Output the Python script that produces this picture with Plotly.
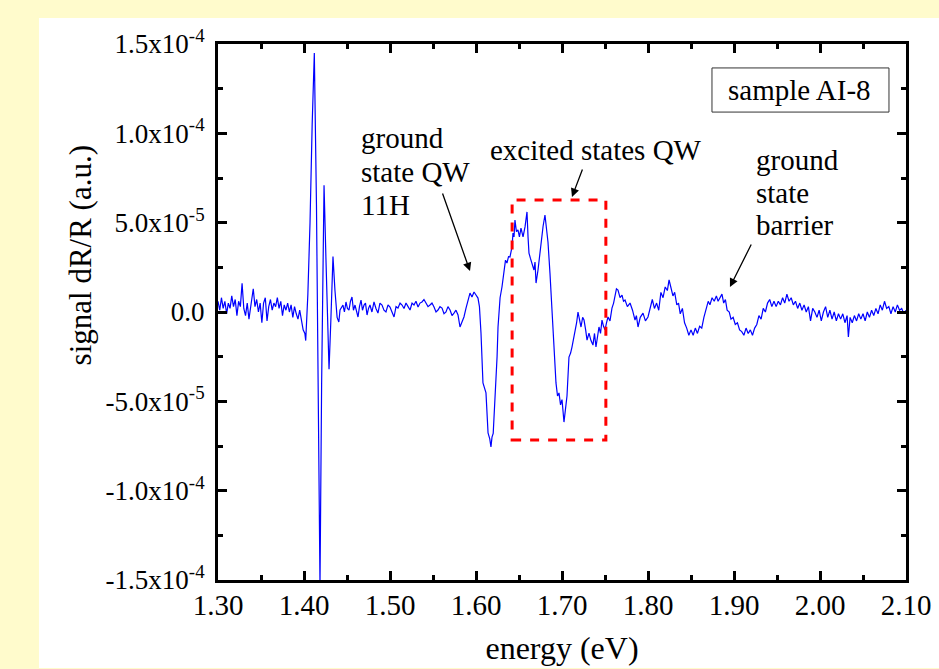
import numpy as np
import plotly.graph_objects as go

# ---------------- data ----------------
energy_ev = [
    1.300, 1.302, 1.304, 1.306, 1.308, 1.310, 1.312, 1.314, 1.316, 1.318, 1.320, 1.322, 1.324, 1.326, 1.328,
    1.330, 1.332, 1.334, 1.336, 1.338, 1.341, 1.343, 1.345, 1.347, 1.349, 1.351, 1.353, 1.355, 1.357, 1.359,
    1.361, 1.363, 1.365, 1.367, 1.369, 1.371, 1.373, 1.375, 1.377, 1.379, 1.381, 1.383, 1.385, 1.387, 1.389,
    1.391, 1.393, 1.395, 1.397, 1.399, 1.401, 1.402,
    1.4045, 1.407, 1.4095, 1.412, 1.4145, 1.4165, 1.4186, 1.4205, 1.4233, 1.4255, 1.4275, 1.4291, 1.4312,
    1.4337, 1.4360, 1.4385, 1.4405, 1.4419,
    1.4453, 1.4470, 1.4488, 1.4505, 1.4523, 1.4540, 1.4558, 1.4575, 1.4593, 1.4610, 1.4628, 1.4645, 1.4663,
    1.4680, 1.4698, 1.4715, 1.4733, 1.4750, 1.4767, 1.4790, 1.4814, 1.4837, 1.4860, 1.4883, 1.4907, 1.4930,
    1.4953, 1.4977, 1.5000, 1.5023, 1.5047, 1.5070, 1.5093, 1.5117, 1.5140, 1.5163, 1.5186, 1.5210, 1.5233,
    1.5256, 1.5279, 1.5302, 1.5326, 1.5349, 1.5372, 1.5395, 1.5419, 1.5442, 1.5465, 1.5488, 1.5512, 1.5535,
    1.5558, 1.5581, 1.5605, 1.5628, 1.5651, 1.5674, 1.5698, 1.5721, 1.5744, 1.5767, 1.5791, 1.5814, 1.5837,
    1.5860, 1.5884, 1.5907, 1.5930, 1.5953, 1.5977, 1.6000, 1.6023, 1.6040,
    1.6058, 1.6081, 1.6100, 1.6116, 1.6140, 1.6160, 1.6174, 1.6186, 1.6200, 1.6209, 1.6233, 1.6245, 1.6256,
    1.6280, 1.6302, 1.6326, 1.6343, 1.6360, 1.6378, 1.6395, 1.6419, 1.6430, 1.6442, 1.6453, 1.6470, 1.6488,
    1.6505, 1.6523, 1.6547, 1.6570, 1.6593, 1.6605, 1.6616, 1.6633, 1.6651, 1.6674, 1.6686, 1.6698, 1.6721,
    1.6740, 1.6756, 1.6780, 1.6802, 1.6820, 1.6837, 1.6860, 1.6884, 1.6907, 1.6930, 1.6948, 1.6965, 1.6983,
    1.7000, 1.7023, 1.7040, 1.7058, 1.7081, 1.7100, 1.7116, 1.7135, 1.7151, 1.7170, 1.7186, 1.7205, 1.7221,
    1.7240, 1.7256, 1.7275, 1.7291, 1.7314, 1.7337, 1.7360, 1.7378, 1.7395, 1.7412, 1.7430, 1.7448, 1.7465,
    1.7483, 1.7500, 1.7518, 1.7535, 1.7558, 1.7581, 1.7600, 1.7616, 1.7633, 1.7651, 1.7675, 1.7698, 1.7715,
    1.7733, 1.7760, 1.7791, 1.7820, 1.7849, 1.7865, 1.7884, 1.7910, 1.7942, 1.7970, 1.8000, 1.8023,
    1.8050, 1.8075, 1.8100, 1.8125, 1.8150, 1.8175, 1.8200, 1.8225, 1.8245, 1.8265, 1.8290, 1.8310, 1.8335,
    1.8355, 1.8375, 1.8400, 1.8425, 1.8450, 1.8475, 1.8500, 1.8525, 1.8550, 1.8575, 1.8600, 1.8625, 1.8650,
    1.8675, 1.8700, 1.8720, 1.8745, 1.8770, 1.8795, 1.8815, 1.8840, 1.8860, 1.8880, 1.8900, 1.8920, 1.8945,
    1.8965, 1.8990, 1.9015, 1.9040, 1.9065, 1.9090, 1.9115, 1.9140, 1.9165, 1.9190, 1.9215, 1.9240, 1.9265,
    1.9290, 1.9315, 1.9340, 1.9365, 1.9390, 1.9415, 1.9440, 1.9465, 1.9490, 1.9515, 1.9540, 1.9565, 1.9590,
    1.9615, 1.9640, 1.9665, 1.9690, 1.9715, 1.9740, 1.9765, 1.9790, 1.9815, 1.9840, 1.9865, 1.9890, 1.9915,
    1.9940, 1.9965, 1.9990, 2.0015, 2.0040, 2.0065, 2.0090, 2.0115, 2.0140, 2.0165, 2.0190, 2.0215, 2.0240,
    2.0265, 2.0290, 2.0315, 2.0330, 2.0350, 2.0375, 2.0400, 2.0425, 2.0450, 2.0475, 2.0500, 2.0525, 2.0550,
    2.0575, 2.0600, 2.0625, 2.0650, 2.0675, 2.0700, 2.0725, 2.0750, 2.0775, 2.0800, 2.0825, 2.0850, 2.0875,
    2.0900, 2.0925, 2.0950, 2.0975, 2.1000,
]

# signal dR/R in units of 1e-5
signal_1e5 = [
    0.6, 0.1, 0.8, 0.2, 0.6, -0.1, 0.5, 0.2, 0.9, 0.3, 0.7, -0.2, 0.6, 0.3, 1.6,
    0.2, -0.2, 0.5, -0.4, 0.3, 1.3, 0.3, 0.7, 0.0, 0.5, -0.6, 0.5, 0.8, -0.5, 0.3,
    0.7, 0.1, 0.5, 0.3, 0.8, 0.2, 0.6, -0.2, 0.4, 0.1, 0.5, 0.0, 0.4, -0.3, 0.3,
    -0.1, -0.4, 0.1, -0.6, -1.0, -1.2, -1.6,
    1.0, 5.0, 10.5, 14.5, 6.0, -6.0, -15.3, -4.0, 7.1, 3.0, -1.5, -3.2, -0.5,
    3.1, 1.2, -0.3, -0.56, 0.11,
    0.39, 0.0, 0.56, 0.2, 0.11, 0.6, 0.84, 0.1, 0.39, 0.0, -0.28, 0.3, 0.67,
    0.1, 0.39, 0.5, -0.17, 0.2, 0.39, 0.0, 0.56, 0.2, -0.06, 0.5, 0.39, 0.1,
    0.0, 0.4, 0.28, 0.0, -0.28, 0.3, 0.22, 0.5, 0.39, 0.2, 0.5, 0.3, 0.11,
    0.5, 0.39, 0.6, 0.28, 0.5, 0.56, 0.7, 0.5, 0.3, 0.39, 0.5, 0.28, 0.0,
    0.11, 0.3, 0.22, -0.1, 0.0, 0.3, 0.11, -0.2, -0.06, 0.1, -0.17, -0.84, -0.56,
    -0.28, 0.22, 0.67, 1.06, 0.84, 1.12, 0.95, 0.78, 0.3,
    -1.18, -3.97, -4.3, -4.53, -6.77, -7.1, -7.55, -7.0, -6.8, -5.88, -4.2, -2.5, -0.84,
    0.8, 1.40, 2.46, 2.9, 2.74, 3.1, 3.08, 3.64, 4.42, 4.2, 5.15, 4.5, 4.59,
    4.2, 4.7, 4.2, 4.76, 5.60, 4.2, 3.30, 3.0, 2.74, 2.35, 2.8, 1.62, 2.35,
    3.2, 4.03, 4.8, 5.43, 4.7, 3.92, 2.18, 0.11, -2.0, -3.97, -4.7, -4.53, -5.2,
    -4.9, -6.16, -5.5, -4.7, -2.52, -2.3, -1.96, -1.5, -1.18, -0.6, 0.0, -0.5, -0.84,
    -0.3, -0.45, -1.0, -1.57, -1.18, -1.6, -1.85, -1.2, -1.96, -1.4, -0.84, -1.2, -0.45,
    -0.8, -1.0, -0.6, -0.28, -0.5, 0.22, 0.5, 0.84, 1.3, 1.23, 0.8, 0.95, 0.6,
    0.67, 0.3, 0.5, 0.1, -0.45, -0.2, -0.84, -0.3, -0.06, -0.5, -0.28, 0.2,
    0.7, 0.2, 0.5, 0.1, 1.1, 0.8, 1.4, 1.2, 1.8, 1.4, 0.9, 1.1, 0.4,
    0.5, -0.1, 0.2, -0.6, -0.9, -1.3, -1.0, -1.3, -0.9, -1.2, -0.8, -0.9, -0.3,
    0.1, 0.6, 0.4, 0.8, 0.6, 0.9, 0.6, 0.8, 1.0, 0.5, 0.7, 0.1, 0.0,
    -0.4, -0.3, -0.7, -0.6, -1.0, -1.1, -1.3, -0.9, -1.2, -1.0, -1.3, -0.9, -0.7,
    -0.2, -0.4, 0.2, 0.0, 0.5, 0.7, 0.3, 0.6, 0.3, 0.6, 0.4, 0.8, 0.5,
    1.0, 0.6, 0.8, 0.4, 0.6, 0.2, 0.5, 0.1, 0.4, 0.0, 0.3, -0.5, 0.2,
    0.0, -0.3, 0.1, -0.5, 0.0, 0.3, -0.3, 0.1, -0.4, 0.0, -0.5, -0.1, -0.4,
    -0.1, -0.6, -0.2, -1.4, -0.3, -0.6, -0.2, -0.5, -0.1, -0.4, -0.1, -0.5, 0.0,
    -0.3, 0.1, -0.2, 0.2, -0.1, 0.4, 0.1, 0.6, 0.2, 0.3, -0.1, 0.3, 0.0,
    0.4, 0.1, 0.2, -0.1, 0.1,
]

x_tick_vals = [1.30, 1.40, 1.50, 1.60, 1.70, 1.80, 1.90, 2.00, 2.10]
x_tick_text = ["1.30", "1.40", "1.50", "1.60", "1.70", "1.80", "1.90", "2.00", "2.10"]
y_tick_vals = [1.5e-4, 1.0e-4, 5.0e-5, 0.0, -5.0e-5, -1.0e-4, -1.5e-4]
y_tick_text = ["1.5x10<sup>-4</sup>", "1.0x10<sup>-4</sup>", "5.0x10<sup>-5</sup>", "0.0",
               "-5.0x10<sup>-5</sup>", "-1.0x10<sup>-4</sup>", "-1.5x10<sup>-4</sup>"]

signal = np.array(signal_1e5) * 1e-5

FONT = "Liberation Serif, Times New Roman, serif"
YELLOW = "#FFFBCC"

fig = go.Figure()
fig.add_trace(go.Scatter(x=energy_ev, y=signal, mode="lines",
                         line=dict(color="#0000FF", width=1.2), showlegend=False,
                         hoverinfo="skip"))

axis_common = dict(showline=True, linewidth=3, linecolor="black", mirror="allticks",
                   ticks="inside", ticklen=9, tickwidth=2.5, tickcolor="black",
                   showgrid=False, zeroline=False, automargin=False)

fig.update_xaxes(range=[1.30, 2.10], tickmode="array", tickvals=x_tick_vals, ticktext=x_tick_text,
                 tickfont=dict(family=FONT, size=29, color="black"),
                 minor=dict(tickmode="linear", tick0=1.30, dtick=0.05, ticks="inside",
                            ticklen=5, tickwidth=2.5, tickcolor="black"),
                 ticklabelstandoff=-3,
                 title=dict(text="energy (eV)", font=dict(family=FONT, size=32, color="black"),
                            standoff=17),
                 **axis_common)
fig.update_yaxes(range=[-1.5e-4, 1.5e-4], tickmode="array", tickvals=y_tick_vals, ticktext=y_tick_text,
                 tickfont=dict(family=FONT, size=27, color="black"),
                 minor=dict(tickmode="linear", tick0=0, dtick=2.5e-5, ticks="inside",
                            ticklen=5, tickwidth=2.5, tickcolor="black"),
                 ticklabelstandoff=5,
                 **axis_common)

# white panel over the yellow page background
fig.add_shape(type="rect", xref="paper", yref="paper", x0=-0.2602, x1=1.2, y0=-0.1642, y1=1.0485,
              fillcolor="white", line=dict(width=0), layer="below")

# dashed box around the excited states
fig.add_shape(type="rect", xref="x", yref="y", x0=1.642, x1=1.751, y0=-7.16e-5, y1=6.27e-5,
              line=dict(color="#FF0000", width=3, dash="dash"), fillcolor="rgba(0,0,0,0)")

# sample label box
fig.add_shape(type="rect", xref="x", yref="y", x0=1.8744, x1=2.0802, y0=11.19e-5, y1=13.66e-5,
              line=dict(color="#333333", width=1), fillcolor="white")

# y axis title (placed as in the reference, above the plot centre)
fig.add_annotation(xref="paper", yref="paper", x=-0.200, y=0.6063, text="signal dR/R (a.u.)",
                   textangle=-90, showarrow=False, xanchor="center", yanchor="middle",
                   font=dict(family=FONT, size=31, color="black"))

ann_font = dict(family=FONT, size=29, color="black")
# (text, x, y, xanchor)
label_lines = [
    ("sample AI-8", 1.9767, 12.43e-5, "center"),
    ("ground", 1.4640, 9.74e-5, "left"),
    ("state QW", 1.4640, 7.84e-5, "left"),
    ("11H", 1.4640, 5.99e-5, "left"),
    ("excited states QW", 1.7395, 9.07e-5, "center"),
    ("ground", 1.9233, 8.51e-5, "left"),
    ("state", 1.9233, 6.66e-5, "left"),
    ("barrier", 1.9233, 4.87e-5, "left"),
]
for text, lx, ly, xa in label_lines:
    fig.add_annotation(x=lx, y=ly, text=text, xref="x", yref="y", showarrow=False,
                       xanchor=xa, yanchor="middle", font=ann_font)

arrows = [
    ((1.5605, 6.72e-5), (1.5930, 2.29e-5)),
    ((1.7244, 8.06e-5), (1.7116, 6.44e-5)),
    ((1.9209, 3.86e-5), (1.8953, 1.40e-5)),
]
for (tx, ty), (hx, hy) in arrows:
    fig.add_annotation(x=hx, y=hy, ax=tx, ay=ty, xref="x", yref="y", axref="x", ayref="y",
                       text="", showarrow=True, arrowhead=2, arrowsize=1.3, arrowwidth=1.3,
                       arrowcolor="black")

fig.update_layout(width=939, height=669, paper_bgcolor=YELLOW, plot_bgcolor="white",
                  margin=dict(l=218, r=33, t=44, b=89, autoexpand=False),
                  font=dict(family=FONT, color="black"))

fig.write_html("out.html", config={"displayModeBar": False},
               post_script="document.body.style.margin='0px';"
                           "document.body.style.background='" + YELLOW + "';"
                           "document.body.style.overflow='hidden';")
